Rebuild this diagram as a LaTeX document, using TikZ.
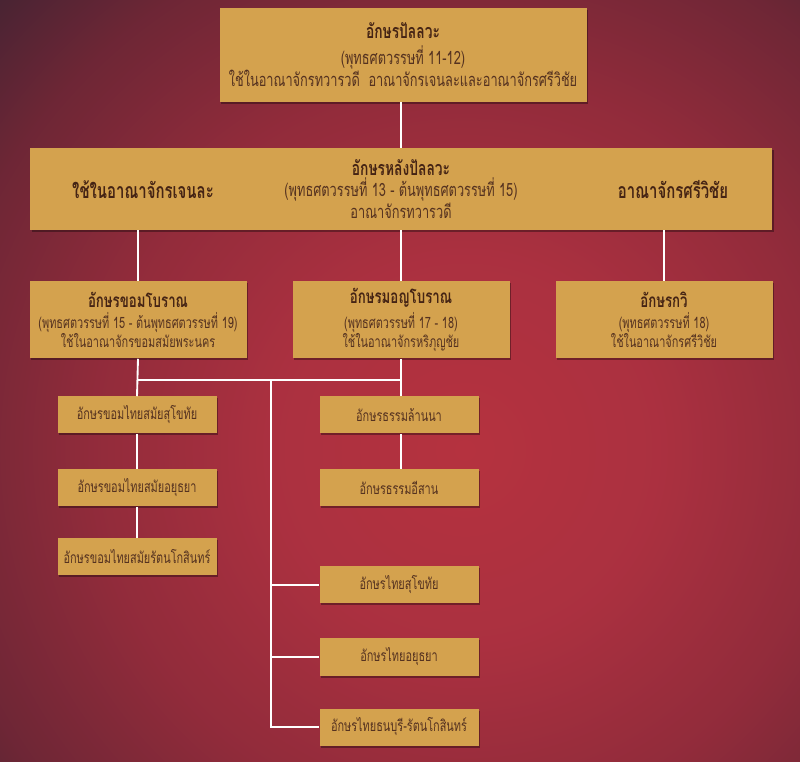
\documentclass[tikz,border=0pt]{standalone}
\usepackage{fontspec}
\setmainfont[Script=Thai, FakeStretch=0.7]{Loma}
\usetikzlibrary{shadows}
\definecolor{boxc}{HTML}{D4A24E}
\definecolor{txtc}{HTML}{553220}
\definecolor{ttlc}{HTML}{452414}
\pgfdeclareradialshading{bgshade}{\pgfpoint{0bp}{0bp}}{%
  rgb(0bp)=(0.71,0.196,0.247);
  rgb(7bp)=(0.67,0.19,0.25);
  rgb(13.5bp)=(0.57,0.17,0.23);
  rgb(19.5bp)=(0.43,0.15,0.21);
  rgb(25bp)=(0.23,0.135,0.196);
  rgb(50bp)=(0.23,0.135,0.196)}
\tikzset{
  box/.style={fill=boxc, draw=none, inner sep=0pt, align=center, text=txtc,
    drop shadow={shadow xshift=1.2pt, shadow yshift=-1.5pt, opacity=0.35, fill=black}},
  bigbox/.style={box, font=\fontsize{13.7}{13.8}\selectfont},
  midbox/.style={box, font=\fontsize{11.7}{12.8}\selectfont},
  sbox/.style={box, font=\fontsize{11.7}{12}\selectfont, minimum width=159*0.75pt, minimum height=37*0.75pt},
  conn/.style={draw=white, line width=1.4pt},
  lbl/.style={inner sep=0pt, text=ttlc, font=\fontsize{16}{16}\selectfont\bfseries}
}
\newcommand\ttl[2]{{\color{ttlc}\fontsize{#1}{#1}\selectfont\bfseries #2}}
\begin{document}
\begin{tikzpicture}[x=0.75pt,y=-0.75pt]
\useasboundingbox (0,0) rectangle (800,762);
\begin{scope}
\clip (0,0) rectangle (800,762);
\fill[black!80!red] (0,0) rectangle (800,762);
\shade[shading=bgshade] (465,450) circle [radius=690];
\end{scope}

% top
\node[bigbox, minimum width=367*0.75pt, minimum height=94*0.75pt] (p) at (403,55)
  {\ttl{14.8}{อักษรปัลลวะ}\\[4pt](พุทธศตวรรษที่ 11-12)\\ใช้ในอาณาจักรทวารวดี\ \ อาณาจักรเจนละและอาณาจักรศรีวิชัย};
\node[bigbox, minimum width=742*0.75pt, minimum height=82*0.75pt] (hp) at (401,189)
  {\ttl{14.8}{อักษรหลังปัลลวะ}\\[1pt](พุทธศตวรรษที่ 13 - ต้นพุทธศตวรรษที่ 15)\\อาณาจักรทวารวดี};
\node[lbl] (hpl) at (143,190) {ใช้ในอาณาจักรเจนละ};
\node[lbl] (hpr) at (673,190) {อาณาจักรศรีวิชัย};

% row 3
\node[midbox, minimum width=217*0.75pt, minimum height=77*0.75pt] (kh) at (138,320)
  {\ttl{14.2}{อักษรขอมโบราณ}\\[3pt](พุทธศตวรรษที่ 15 - ต้นพุทธศตวรรษที่ 19)\\ใช้ในอาณาจักรขอมสมัยพระนคร};
\node[midbox, minimum width=217*0.75pt, minimum height=77*0.75pt] (mo) at (401,320)
  {\ttl{14.2}{อักษรมอญโบราณ}\\[3pt](พุทธศตวรรษที่ 17 - 18)\\ใช้ในอาณาจักรหริภุญชัย};
\node[midbox, minimum width=217*0.75pt, minimum height=77*0.75pt] (kv) at (664,320)
  {\ttl{14.2}{อักษรกวิ}\\[3pt](พุทธศตวรรษที่ 18)\\ใช้ในอาณาจักรศรีวิชัย};

% left column
\node[sbox] (l1) at (137,415) {อักษรขอมไทยสมัยสุโขทัย};
\node[sbox] (l2) at (137,488) {อักษรขอมไทยสมัยอยุธยา};
\node[sbox] (l3) at (137,557) {อักษรขอมไทยสมัยรัตนโกสินทร์};
% right column
\node[sbox] (r1) at (399,415) {อักษรธรรมล้านนา};
\node[sbox] (r2) at (399,488) {อักษรธรรมอีสาน};
\node[sbox] (t1) at (399,585) {อักษรไทยสุโขทัย};
\node[sbox] (t2) at (399,657) {อักษรไทยอยุธยา};
\node[sbox] (t3) at (399,727) {อักษรไทยธนบุรี-รัตนโกสินทร์};

\coordinate (ja) at (137,380);
\coordinate (jb) at (401,380);
\coordinate (jc) at (271,380);

\draw[conn] (hp.north |- p.south) -- (hp.north);
\draw[conn] (kh.north |- hp.south) -- (kh.north);
\draw[conn] (hp.south) -- (mo.north);
\draw[conn] (kv.north |- hp.south) -- (kv.north);
\draw[conn] (kh.south) -- (l1.north);
\draw[conn] (l1.south) -- (l2.north);
\draw[conn] (l2.south) -- (l3.north);
\draw[conn] (mo.south) -- (jb) -- (r1.north -| jb);
\draw[conn] (ja) -- (jb);
\draw[conn] (r1.south -| jb) -- (r2.north -| jb);
\draw[conn] (jc) |- (t1.west);
\draw[conn] (jc) |- (t2.west);
\draw[conn] (jc) |- (t3.west);
\end{tikzpicture}
\end{document}
